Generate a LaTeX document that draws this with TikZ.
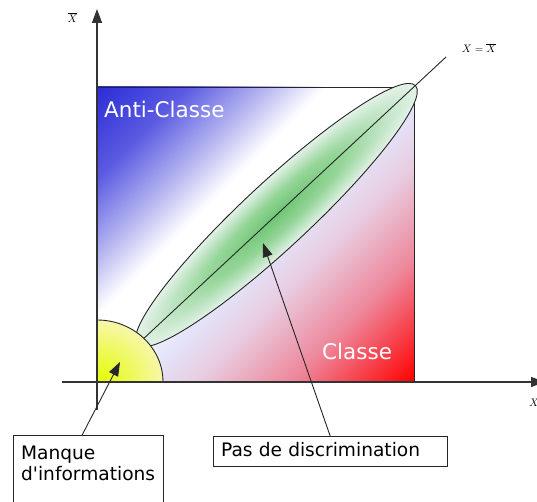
\documentclass[tikz,border=0pt]{standalone}
\usepackage{fontspec}
\setsansfont{DejaVu Sans}
\usepackage{xcolor}
\usepackage{tikz}
\usetikzlibrary{arrows.meta, positioning, calc}

\definecolor{axisgray}{RGB}{51,51,51}
\definecolor{antiblue}{RGB}{45,45,215}
\definecolor{antimid}{RGB}{90,90,226}
\definecolor{antipale}{RGB}{180,180,240}
\definecolor{lavend}{RGB}{228,228,250}
\definecolor{rosepale}{RGB}{232,205,225}
\definecolor{rosemid}{RGB}{238,135,155}
\definecolor{classred}{RGB}{255,0,0}
\definecolor{grcore}{RGB}{110,197,115}
\definecolor{grmid}{RGB}{150,214,153}
\definecolor{grlight}{RGB}{198,231,203}
\definecolor{grpale}{RGB}{228,242,232}
\definecolor{ylcore}{RGB}{228,252,0}
\definecolor{ylpale}{RGB}{247,247,170}

\pgfdeclarehorizontalshading{classfield}{100bp}{color(0bp)=(antiblue); color(14.6bp)=(antiblue);
  color(25bp)=(antimid); color(34bp)=(antipale); color(41bp)=(white); color(47bp)=(white);
  color(53.5bp)=(lavend); color(60bp)=(rosepale); color(71.2bp)=(rosemid); color(85.4bp)=(classred);
  color(100bp)=(classred)}
\pgfdeclareradialshading{overlap}{\pgfpoint{0bp}{0bp}}{color(0bp)=(grcore); color(12bp)=(grmid);
  color(20bp)=(grlight); color(25bp)=(grpale); color(50bp)=(grpale)}
\pgfdeclareradialshading{lackglow}{\pgfpoint{0bp}{0bp}}{color(0bp)=(ylcore); color(25bp)=(ylpale);
  color(50bp)=(ylpale)}

\begin{document}
\begin{tikzpicture}[x=1pt, y=1pt,
  >={Triangle[length=14pt, width=10pt]},
  axis/.style={draw=axisgray, line width=1.2pt},
  thin line/.style={draw=black!85, line width=0.9pt},
  region/.style={font=\sffamily\fontsize{21.5}{24}\selectfont, text=white, inner sep=0pt,
                 anchor=base west},
  axislabel/.style={font=\fontsize{11}{13}\selectfont, inner sep=0pt},
  note/.style={draw=black!85, line width=0.9pt, font=\sffamily\fontsize{18.6}{21}\selectfont,
               align=left, inner sep=8pt, anchor=north west}]
  \useasboundingbox (0,0) rectangle (537,502);

  \coordinate (O) at (97,120);
  \coordinate (corner) at (414,415);
  \coordinate (diagend) at (446,445);
  \coordinate (lens) at (276.4,286.9);
  \coordinate (lack) at (120,140);
  \coordinate (nodisc) at (263,259);
  \coordinate (xstart) at (62,120);
  \coordinate (xend) at (545,120);
  \coordinate (ybot) at (97,92);
  \coordinate (ytop) at (97,493);

  \shade[shading=classfield, shading angle=-45] (O) rectangle (corner);
  \draw[thin line] (O) rectangle (corner);

  \begin{scope}[transform canvas={shift={(lens)}, rotate=42.94}]
    \shade[shading=overlap] (0,0) ellipse [x radius=190, y radius=33];
  \end{scope}
  \draw[thin line, rotate around={42.94:(lens)}] (lens) ellipse [x radius=190, y radius=33];
  \draw[thin line] (O) -- (diagend);

  \begin{scope}
    \clip (O) -- ++(66,0) arc[start angle=0, end angle=90, x radius=66, y radius=62] -- cycle;
    \shade[shading=lackglow] (O) ellipse [x radius=66, y radius=62];
  \end{scope}
  \draw[thin line] ([xshift=66pt]O) arc[start angle=0, end angle=90, x radius=66, y radius=62];

  \draw[axis, ->] (xstart) -- (xend);
  \draw[axis, ->] (ybot) -- (ytop);

  \node[axislabel] (ybar) at (72.5,484.5) {$\overline{X}$};
  \node[axislabel] (xlab) at (534,99) {$X$};
  \node[axislabel] (diaglab) at (479,454) {$X=\overline{X}$};
  \node[region] (anti) at (104,384) {Anti-Classe};
  \node[region] (classe) at (322,142) {Classe};

  \node[note, text width=134pt, text height=16pt, text depth=43pt] (manque) at (12.7,67)
    {Manque\\d\textquotesingle informations};
  \node[note, text width=218pt, inner ysep=6pt, text height=14pt, text depth=4pt] (pas) at (212.7,66)
    {Pas de discrimination};

  \draw[->, thin line] ([xshift=-6pt]manque.north) -- (lack);
  \draw[->, thin line] (pas.north) -- (nodisc);
\end{tikzpicture}
\end{document}
